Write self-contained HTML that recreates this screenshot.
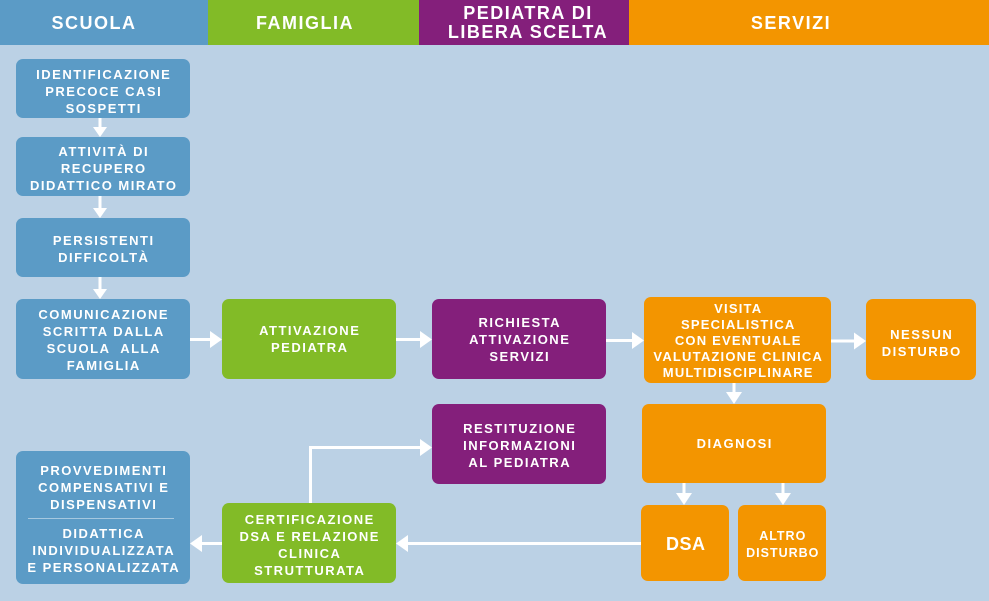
<!DOCTYPE html>
<html><head><meta charset="utf-8">
<style>
*{margin:0;padding:0;box-sizing:border-box}
body{width:989px;height:601px;background:#bbd1e5;position:relative;overflow:hidden;font-family:"Liberation Sans",Arial,sans-serif;font-weight:bold;color:#fff}
.h{position:absolute;top:0;height:45px}
.ht{position:absolute;font-size:18px;letter-spacing:1.5px;white-space:nowrap;text-align:center;line-height:19px}
.b{position:absolute;border-radius:7px;display:flex;align-items:center;justify-content:center;text-align:center;font-size:13px;letter-spacing:1.5px;line-height:17px;white-space:nowrap;padding-left:1.5px}
.bl{background:#5b9bc6}.gr{background:#82bb27}.pu{background:#841f7b}.or{background:#f39500}
svg{position:absolute;left:0;top:0}
</style></head><body>
<div class="h bl" style="left:0;width:208px"></div>
<div class="h gr" style="left:208px;width:211px"></div>
<div class="h pu" style="left:419px;width:210px"></div>
<div class="h or" style="left:629px;width:360px"></div>
<div class="ht" style="left:44px;width:100px;top:14px">SCUOLA</div>
<div class="ht" style="left:245px;width:120px;top:14px">FAMIGLIA</div>
<div class="ht" style="left:438px;width:180px;top:4px">PEDIATRA DI<br>LIBERA SCELTA</div>
<div class="ht" style="left:741px;width:100px;top:14px">SERVIZI</div>

<div class="b bl" style="left:16px;top:59px;width:174px;height:59px;padding-top:5px">IDENTIFICAZIONE<br>PRECOCE CASI<br>SOSPETTI</div>
<div class="b bl" style="left:16px;top:137px;width:174px;height:59px;padding-top:4px">ATTIVITÀ DI<br>RECUPERO<br>DIDATTICO MIRATO</div>
<div class="b bl" style="left:16px;top:218px;width:174px;height:59px;padding-top:2px">PERSISTENTI<br>DIFFICOLTÀ</div>
<div class="b bl" style="left:16px;top:299px;width:174px;height:80px;padding-top:2px">COMUNICAZIONE<br>SCRITTA DALLA<br>SCUOLA&nbsp; ALLA<br>FAMIGLIA</div>
<div class="b gr" style="left:222px;top:299px;width:174px;height:80px">ATTIVAZIONE<br>PEDIATRA</div>
<div class="b pu" style="left:432px;top:299px;width:174px;height:80px">RICHIESTA<br>ATTIVAZIONE<br>SERVIZI</div>
<div class="b or" style="left:644px;top:297px;width:187px;height:86px;line-height:16px;letter-spacing:1.2px;padding-top:2px">VISITA<br>SPECIALISTICA<br>CON EVENTUALE<br>VALUTAZIONE CLINICA<br>MULTIDISCIPLINARE</div>
<div class="b or" style="left:866px;top:299px;width:110px;height:81px;padding-top:6px">NESSUN<br>DISTURBO</div>
<div class="b pu" style="left:432px;top:404px;width:174px;height:80px;padding-top:2px">RESTITUZIONE<br>INFORMAZIONI<br>AL PEDIATRA</div>
<div class="b or" style="left:642px;top:404px;width:184px;height:79px">DIAGNOSI</div>
<div class="b or" style="left:641px;top:505px;width:88px;height:76px;font-size:18px;letter-spacing:0.5px;padding-top:3px">DSA</div>
<div class="b or" style="left:738px;top:505px;width:88px;height:76px;font-size:12.5px;letter-spacing:1px;padding-top:4px">ALTRO<br>DISTURBO</div>
<div class="b gr" style="left:222px;top:503px;width:174px;height:80px;padding-top:3px">CERTIFICAZIONE<br>DSA E RELAZIONE<br>CLINICA<br>STRUTTURATA</div>
<div class="b bl" style="left:16px;top:451px;width:174px;height:133px;display:block;padding-top:11px">PROVVEDIMENTI<br>COMPENSATIVI E<br>DISPENSATIVI
<div style="margin:5px 0 0 10px;width:146px;height:1px;background:rgba(255,255,255,0.45)"></div>
<div style="margin-top:6px">DIDATTICA<br>INDIVIDUALIZZATA<br>E PERSONALIZZATA</div></div>

<svg width="989" height="601" viewBox="0 0 989 601">
<g stroke="#fff" stroke-width="3" fill="none">
<line x1="100" y1="118" x2="100" y2="128"/>
<line x1="100" y1="196" x2="100" y2="209"/>
<line x1="100" y1="277" x2="100" y2="290"/>
<line x1="190" y1="339.5" x2="211" y2="339.5"/>
<line x1="396" y1="339.5" x2="421" y2="339.5"/>
<line x1="606" y1="340.5" x2="633" y2="340.5"/>
<line x1="831" y1="341" x2="855" y2="341"/>
<line x1="734" y1="383" x2="734" y2="393"/>
<line x1="684" y1="483" x2="684" y2="494"/>
<line x1="783" y1="483" x2="783" y2="494"/>
<line x1="641" y1="543.5" x2="407" y2="543.5"/>
<line x1="222" y1="543.5" x2="201" y2="543.5"/>
<polyline points="310.5,503 310.5,447.5 421,447.5"/>
</g>
<g fill="#fff">
<polygon points="93,127 107,127 100,137"/>
<polygon points="93,208 107,208 100,218"/>
<polygon points="93,289 107,289 100,299"/>
<polygon points="210,331 210,348 222,339.5"/>
<polygon points="420,331 420,348 432,339.5"/>
<polygon points="632,332 632,349 644,340.5"/>
<polygon points="854,332.5 854,349.5 866,341"/>
<polygon points="726,392 742,392 734,404"/>
<polygon points="676,493 692,493 684,505"/>
<polygon points="775,493 791,493 783,505"/>
<polygon points="408,535 408,552 396,543.5"/>
<polygon points="202,535 202,552 190,543.5"/>
<polygon points="420,439 420,456 432,447.5"/>
</g>
</svg>
</body></html>
